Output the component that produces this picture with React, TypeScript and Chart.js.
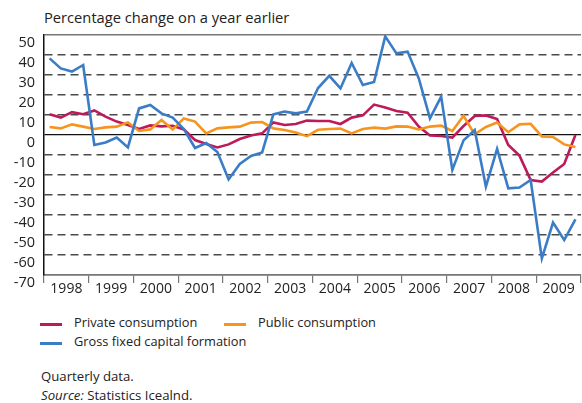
import React, { useEffect, useRef } from "react";
import { Chart, registerables } from "chart.js";

Chart.register(...registerables);

const years = ["1998", "1999", "2000", "2001", "2002", "2003", "2004", "2005", "2006", "2007", "2008", "2009"];

const privateConsumption = [
  10.4, 8.7, 11.4, 10.4, 12.3, 9.2, 6.7, 5, 3, 4.8, 4.3, 4.6,
  2.8, -2.5, -4.5, -6.2, -4.7, -2, -0.2, 0.8, 6.3, 5, 5.5, 7.2,
  7, 7, 5.5, 8.7, 9.8, 15.2, 13.7, 12, 11.2, 4.2, -0.2, -0.5,
  -1.3, 4.5, 9.5, 9.8, 8, -5, -10.3, -22.5, -23.3, -18.8, -14.5, 0,
];

const publicConsumption = [
  4, 3.3, 5.3, 4.2, 3, 3.8, 4.2, 6.3, 2, 2.8, 7.5, 2.7,
  8.3, 6.7, 0.8, 3.3, 3.8, 4.2, 6.2, 6.5, 3.3, 2.5, 1.2, -0.6,
  2.6, 3, 3.2, 0.8, 3, 3.7, 3.2, 4.3, 4.2, 2.8, 4.2, 4.7,
  2, 9.6, 0.3, 4, 6.2, 1.4, 5.3, 5.6, -0.7, -1, -4.7, -6,
];

const grossFixedCapital = [
  38.3, 33.3, 31.7, 35, -5, -3.7, -1.3, -6.2, 13.3, 15, 10.8, 8.7,
  3, -6.5, -4, -8.5, -22.2, -14.5, -10.5, -8.7, 10.3, 11.7, 10.8, 11.7,
  23.5, 29.6, 23.3, 36, 25, 26.5, 49.3, 40.8, 41.7, 28.3, 8.3, 19.2,
  -17.5, -2.7, 2.5, -25.8, -7, -26.7, -26.3, -22.5, -61.7, -43.8, -52.5, -42.2,
];

const yMin = -70;
const yMax = 50;

const seriesNames = ["Private consumption", "Public consumption", "Gross fixed capital formation"];
const seriesColors = ["#BE1A5A", "#F7941D", "#3A7DC6"];

const FONT = "'Open Sans', sans-serif";

function toPoints(values: number[]) {
  return values.map((v, i) => ({ x: i + 0.5, y: v }));
}

export default function App() {
  const canvasRef = useRef<HTMLCanvasElement | null>(null);

  useEffect(() => {
    document.body.style.margin = "0";
    const canvas = canvasRef.current;
    if (!canvas) return;
    const allSeries = [privateConsumption, publicConsumption, grossFixedCapital];
    const order = [2, 1, 0];
    const chart = new Chart(canvas, {
      type: "line",
      data: {
        datasets: order.map((k) => ({
          label: seriesNames[k],
          data: toPoints(allSeries[k]),
          borderColor: seriesColors[k],
          backgroundColor: seriesColors[k],
          borderWidth: 2.6,
          pointRadius: 0,
          tension: 0,
          fill: false,
        })),
      },
      options: {
        animation: false,
        responsive: false,
        maintainAspectRatio: false,
        layout: { padding: { top: 35, right: 1, left: 0, bottom: 0 } },
        plugins: {
          legend: { display: false },
          title: { display: false },
          tooltip: { enabled: false },
        },
        scales: {
          x: {
            type: "linear",
            min: 0,
            max: years.length * 4,
            afterBuildTicks: (scale: any) => {
              const t = [];
              for (let v = 0; v <= years.length * 4; v += 2) t.push({ value: v });
              scale.ticks = t;
            },
            afterFit: (scale: any) => {
              scale.height = 25;
            },
            ticks: {
              autoSkip: false,
              maxRotation: 0,
              padding: -2,
              color: "#222",
              font: { family: FONT, size: 14 },
              callback: (value: any) => {
                const v = Number(value);
                if (v % 4 === 2) return years[(v - 2) / 4];
                return "";
              },
            },
            grid: {
              drawOnChartArea: false,
              drawTicks: true,
              tickLength: 8,
              color: (ctx: any) => (ctx.tick && ctx.tick.value % 4 === 0 ? "#777" : "rgba(0,0,0,0)"),
              tickColor: (ctx: any) => (ctx.tick && ctx.tick.value % 4 === 0 ? "#777" : "rgba(0,0,0,0)"),
              lineWidth: 1.2,
            },
            border: { display: true, color: "#777", width: 1.5 },
          },
          y: {
            type: "linear",
            min: yMin,
            max: yMax,
            afterFit: (scale: any) => {
              scale.width = 44;
            },
            ticks: {
              stepSize: 10,
              autoSkip: false,
              padding: 9,
              labelOffset: 8,
              color: "#222",
              font: { family: FONT, size: 14.5 },
            },
            grid: {
              drawTicks: false,
              color: (ctx: any) => {
                const v = ctx.tick ? ctx.tick.value : null;
                if (v === 0) return "#111";
                if (v === yMax || v === yMin) return "#777";
                return "#4a4a4a";
              },
              lineWidth: (ctx: any) => {
                const v = ctx.tick ? ctx.tick.value : null;
                if (v === 0) return 1.3;
                return 1.4;
              },
            },
            border: {
              display: true,
              color: "#111",
              width: 1.5,
              dash: (ctx: any) => {
                const v = ctx.tick ? ctx.tick.value : null;
                if (v === null || v === 0 || v === yMax || v === yMin) return [];
                return [8, 5];
              },
            },
          },
        },
      },
    } as any);
    return () => chart.destroy();
  }, []);

  const textStyle: React.CSSProperties = {
    position: "absolute",
    fontFamily: FONT,
    color: "#222",
    whiteSpace: "nowrap",
    lineHeight: "1",
  };

  const legendItem = (k: number, left: number, top: number) => (
    <div key={k} style={{ position: "absolute", left, top, height: 18 }}>
      <div
        style={{
          position: "absolute",
          left: 0,
          top: 8,
          width: 22,
          height: 2.5,
          background: seriesColors[k],
        }}
      />
      <div style={{ ...textStyle, left: 34, top: 1, fontSize: 12.8 }}>{seriesNames[k]}</div>
    </div>
  );

  return (
    <div style={{ position: "relative", width: 582, height: 403, background: "#fff", overflow: "hidden" }}>
      <div style={{ ...textStyle, left: 44, top: 10, fontSize: 14.7 }}>Percentage change on a year earlier</div>
      <canvas ref={canvasRef} width={582} height={300} style={{ position: "absolute", left: 0, top: 0, width: 582, height: 300 }} />
      {legendItem(0, 40, 315)}
      {legendItem(1, 224, 315)}
      {legendItem(2, 40, 334)}
      <div style={{ ...textStyle, left: 41, top: 370, fontSize: 13.2 }}>Quarterly data.</div>
      <div style={{ ...textStyle, left: 41, top: 389, fontSize: 13.2 }}>
        <i>Source:</i> Statistics Icealnd.
      </div>
    </div>
  );
}
